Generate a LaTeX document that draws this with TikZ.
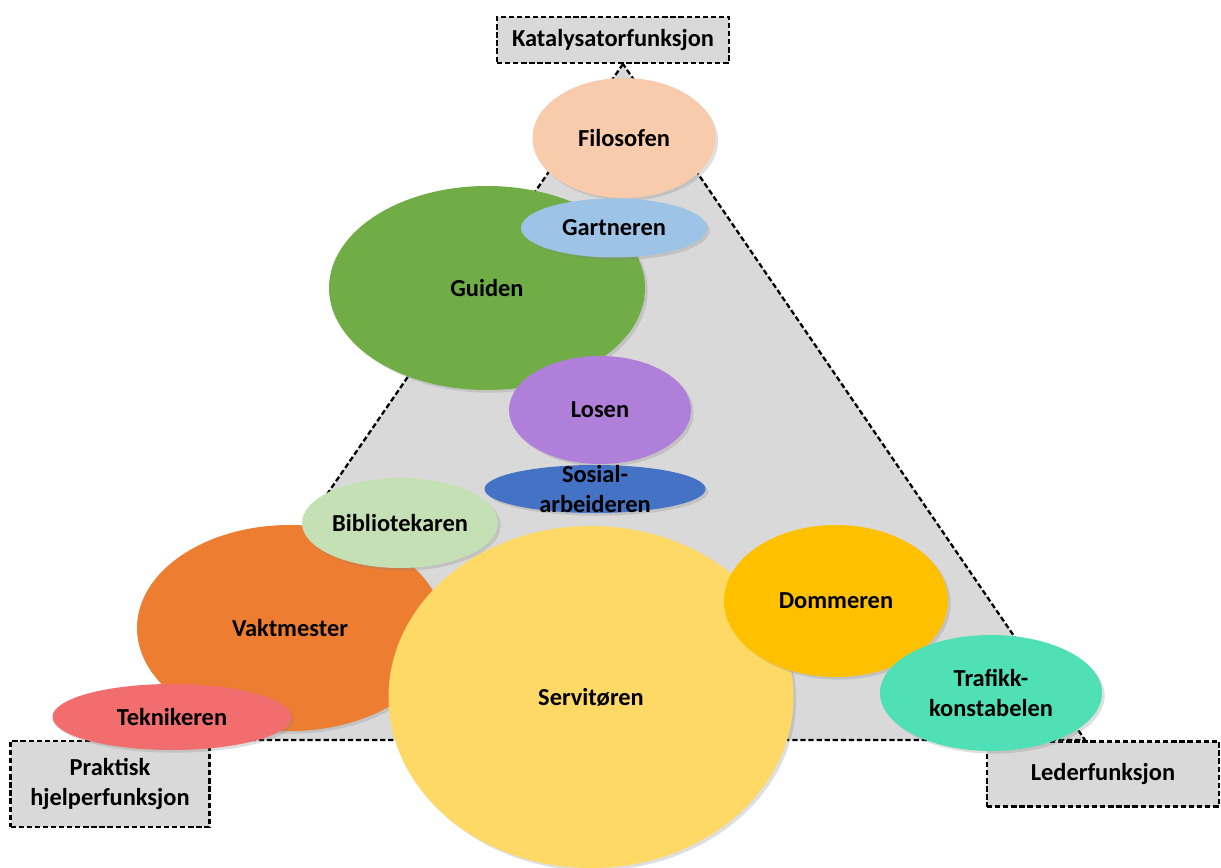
\documentclass[tikz,border=0pt]{standalone}
\usepackage{fontspec}
\setmainfont{Carlito}
\usetikzlibrary{shapes.geometric, shadows}
\definecolor{graa}{HTML}{D9D9D9}
\definecolor{filosof}{HTML}{F8CBAD}
\definecolor{gartner}{HTML}{9DC3E6}
\definecolor{guide}{HTML}{70AD47}
\definecolor{los}{HTML}{B07FD9}
\definecolor{sosial}{HTML}{4472C4}
\definecolor{bibliotek}{HTML}{C5E0B4}
\definecolor{vaktmester}{HTML}{ED7D31}
\definecolor{tekniker}{HTML}{F26D6D}
\definecolor{servitor}{HTML}{FFD966}
\definecolor{dommer}{HTML}{FFC000}
\definecolor{trafikk}{HTML}{4FE0B5}
\tikzset{
    %Define text style
    tekst/.style={
           font=\bfseries\fontsize{13.9}{16.8}\selectfont,
           text=black,
           align=center},
    %Define style for the dashed lines
    stiplet/.style={
           draw=black,
           line width=1.3pt,
           dash pattern=on 3pt off 1.6pt},
    %Define style for boxes
    funksjon/.style={
           rectangle,
           stiplet,
           fill=graa,
           tekst,
           inner sep=0pt},
    % Define style for the ellipses
    rolle/.style 2 args={
           ellipse,
           tekst,
           inner sep=0pt,
           minimum width=#1*0.02cm,
           minimum height=#2*0.02cm,
           drop shadow={shadow xshift=1.5pt, shadow yshift=-1.5pt, opacity=0.25}}
}
\begin{document}
\begin{tikzpicture}[x=0.02cm, y=-0.02cm]
	\useasboundingbox (0,0) rectangle (1221,868);
	%
	% trekant
	%
	\coordinate (topp) at (623,64);
	\coordinate (venstre) at (158,740);
	\coordinate (hoyre) at (1085,740);
	\draw[stiplet, fill=graa] (topp) -- (venstre) -- (hoyre) -- cycle;
	%
	% funksjoner
	%
	\node[funksjon, minimum width=232*0.02cm, minimum height=46*0.02cm] (katalysator) at (613,40) {Katalysatorfunksjon};
	\node[funksjon, minimum width=199*0.02cm, minimum height=86*0.02cm] (praktisk) at (110,784) {Praktisk\\hjelperfunksjon};
	\node[funksjon, minimum width=232*0.02cm, minimum height=65*0.02cm] (leder) at (1103,774) {Lederfunksjon};
	%
	% roller
	%
	\node[rolle={316}{204}, fill=guide] (guiden) at (487,288) {Guiden};
	\node[rolle={183}{120}, fill=filosof] (filosofen) at (624,138) {Filosofen};
	\node[rolle={186}{59}, fill=gartner] (gartneren) at (614,228) {Gartneren};
	\node[rolle={182}{108}, fill=los] (losen) at (600,410) {Losen};
	\node[rolle={221}{48}, fill=sosial, label={[tekst]center:Sosial-\\arbeideren}] (sosial) at (595,489) {};
	\node[rolle={306}{206}, fill=vaktmester] (vaktmester) at (290,628) {Vaktmester};
	\node[rolle={405}{342}, fill=servitor] (servitoren) at (591,697) {Servitøren};
	\node[rolle={196}{90}, fill=bibliotek] (bibliotekaren) at (400,523) {Bibliotekaren};
	\node[rolle={239}{66}, fill=tekniker] (teknikeren) at (172,717) {Teknikeren};
	\node[rolle={224}{152}, fill=dommer] (dommeren) at (836,601) {Dommeren};
	\node[rolle={222}{116}, fill=trafikk] (trafikk) at (991,693) {Trafikk-\\konstabelen};
\end{tikzpicture}
\end{document}
